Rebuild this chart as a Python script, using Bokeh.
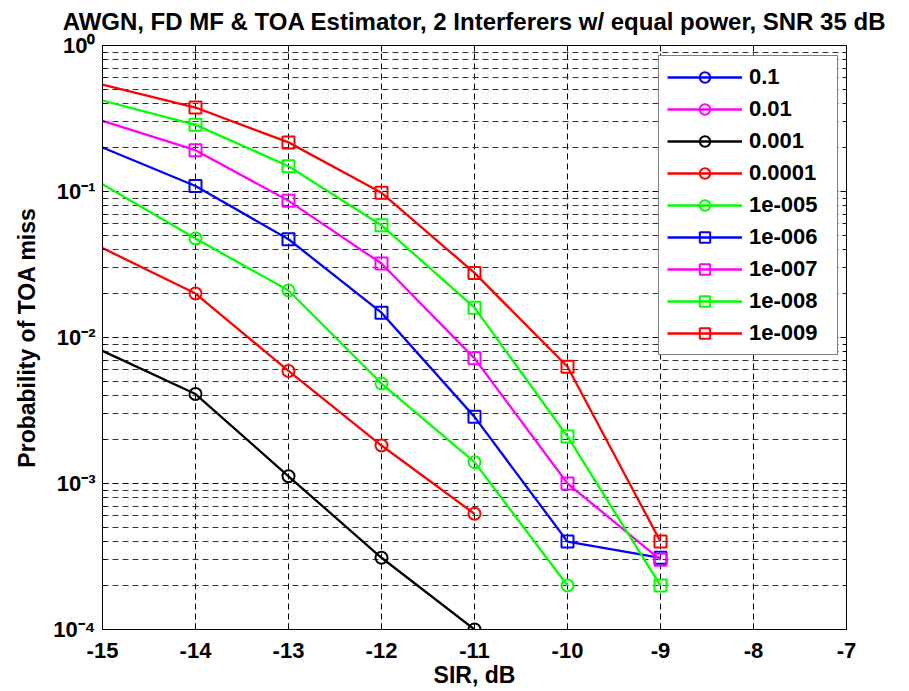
from bokeh.plotting import figure
from bokeh.models import (Range1d, FixedTicker, Legend, LegendItem,
                          LogAxis, LinearAxis, CustomJSTickFormatter, ColumnDataSource)
from bokeh.embed import file_html
from bokeh.resources import INLINE

nan = float("nan")

# ---- data ----
sir_db = [-15, -14, -13, -12, -11, -10, -9]
series_labels = ["0.1", "0.01", "0.001", "0.0001", "1e-005", "1e-006", "1e-007", "1e-008", "1e-009"]
p_0_1 = [nan, nan, nan, nan, nan, nan, nan]
p_0_01 = [nan, nan, nan, nan, nan, nan, nan]
p_1e_3 = [0.0081, 0.0041, 0.00112, 0.00031, 0.0001, nan, nan]
p_1e_4 = [0.041, 0.020, 0.0059, 0.00182, 0.00062, nan, nan]
p_1e_5 = [0.112, 0.0476, 0.021, 0.00484, 0.0014, 0.0002, nan]
p_1e_6 = [0.200, 0.109, 0.0471, 0.0148, 0.00286, 0.0004, 0.00031]
p_1e_7 = [0.305, 0.192, 0.0863, 0.0321, 0.0072, 0.0010, 0.0003]
p_1e_8 = [0.42, 0.286, 0.149, 0.0587, 0.016, 0.0021, 0.0002]
p_1e_9 = [0.54, 0.376, 0.217, 0.098, 0.0277, 0.0063, 0.0004]
series_values = [p_0_1, p_0_01, p_1e_3, p_1e_4, p_1e_5, p_1e_6, p_1e_7, p_1e_8, p_1e_9]
series_colors = ["#0000FF", "#FF00FF", "#000000", "#FF0000", "#00FF00",
                 "#0000FF", "#FF00FF", "#00FF00", "#FF0000"]
series_markers = ["circle"] * 5 + ["square"] * 4

x_ticks = [-15, -14, -13, -12, -11, -10, -9, -8, -7]
x_tick_labels = ["-15", "-14", "-13", "-12", "-11", "-10", "-9", "-8", "-7"]
y_tick_vals = [1e-4, 1e-3, 1e-2, 1e-1, 1.0]
y_tick_labels = ["10\u207b\u2074", "10\u207b\u00b3", "10\u207b\u00b2", "10\u207b\u00b9", "10\u2070"]
y_minor = [m * d for d in [1e-4, 1e-3, 1e-2, 1e-1] for m in range(2, 10)]

title_text = "AWGN, FD MF & TOA Estimator, 2 Interferers w/ equal power, SNR 35 dB"
FONT = "Liberation Sans"

p = figure(frame_width=744, frame_height=584, y_axis_type="log",
           x_range=Range1d(-15, -7), y_range=Range1d(1e-4, 1),
           output_backend="svg", toolbar_location=None,
           min_border_left=102, min_border_right=63, min_border_top=45, min_border_bottom=62,
           background_fill_color="white", border_fill_color="white")

p.title.visible = False

p.outline_line_color = "black"
p.outline_line_width = 1

blank = CustomJSTickFormatter(code="return ''")
x_fmt = CustomJSTickFormatter(args=dict(vals=x_ticks, labs=x_tick_labels), code="""
    let best = 0;
    for (let i = 0; i < vals.length; i++) {
        if (Math.abs(vals[i] - tick) < Math.abs(vals[best] - tick)) best = i;
    }
    return labs[best];
""")
y_fmt = CustomJSTickFormatter(args=dict(vals=y_tick_vals, labs=y_tick_labels), code="""
    let best = 0;
    const lt = Math.log10(tick);
    for (let i = 0; i < vals.length; i++) {
        if (Math.abs(Math.log10(vals[i]) - lt) < Math.abs(Math.log10(vals[best]) - lt)) best = i;
    }
    return labs[best];
""")

# x axis
xa = p.xaxis[0]
xa.ticker = FixedTicker(ticks=x_ticks)
xa.formatter = x_fmt
xa.major_label_text_font = FONT
xa.major_label_text_font_size = "22px"
xa.major_label_text_font_style = "bold"
xa.major_label_text_color = "black"
xa.major_tick_in = 6
xa.major_tick_out = 0
xa.minor_tick_line_color = None
xa.major_label_standoff = 13
xa.axis_label = "SIR, dB"
xa.axis_label_text_font = FONT
xa.axis_label_text_font_size = "23px"
xa.axis_label_text_font_style = "bold"
xa.axis_label_text_color = "black"
xa.axis_label_standoff = 1
xa.axis_line_color = "black"

# y axis
ya = p.yaxis[0]
ya.ticker = FixedTicker(ticks=y_tick_vals, minor_ticks=y_minor)
ya.formatter = y_fmt
ya.major_label_text_font = FONT
ya.major_label_text_font_size = "22px"
ya.major_label_text_font_style = "bold"
ya.major_label_text_color = "black"
ya.major_label_standoff = 7
ya.major_tick_in = 6
ya.major_tick_out = 0
ya.minor_tick_in = 3
ya.minor_tick_out = 0
ya.axis_label = "Probability of TOA miss"
ya.axis_label_text_font = FONT
ya.axis_label_text_font_size = "23px"
ya.axis_label_text_font_style = "bold"
ya.axis_label_text_color = "black"
ya.axis_label_standoff = 10
ya.axis_line_color = "black"

# right / top tick-only axes (MATLAB box ticks); top axis carries the title text
ra = LogAxis(ticker=FixedTicker(ticks=y_tick_vals, minor_ticks=y_minor), formatter=blank,
             major_label_text_font_size="0px", major_label_standoff=0,
             major_tick_in=6, major_tick_out=0, minor_tick_in=3, minor_tick_out=0,
             axis_line_color="black")
p.add_layout(ra, "right")
ta = LinearAxis(ticker=FixedTicker(ticks=x_ticks), formatter=blank,
                major_label_text_font_size="0px", major_label_standoff=0,
                major_tick_in=6, major_tick_out=0, minor_tick_line_color=None,
                axis_line_color="black",
                axis_label=title_text, axis_label_text_font=FONT,
                axis_label_text_font_size="24px", axis_label_text_font_style="bold",
                axis_label_text_color="black", axis_label_standoff=11)
p.add_layout(ta, "above")

# grid
p.xgrid.ticker = FixedTicker(ticks=x_ticks)
p.xgrid.grid_line_color = "black"
p.xgrid.grid_line_dash = "6 4"
p.xgrid.grid_line_width = 1
p.ygrid.ticker = FixedTicker(ticks=y_tick_vals, minor_ticks=y_minor)
p.ygrid.grid_line_color = "black"
p.ygrid.grid_line_dash = "6 4"
p.ygrid.minor_grid_line_color = "#333333"
p.ygrid.minor_grid_line_dash = "6 4"

items = []
for lab, vals, col, mk in zip(series_labels, series_values, series_colors, series_markers):
    line_src = ColumnDataSource(dict(x=sir_db, y=vals))
    mx = [x for x in sir_db if x > -15]
    my = [v for x, v in zip(sir_db, vals) if x > -15]
    mk_src = ColumnDataSource(dict(x=mx, y=my))
    lr = p.line("x", "y", source=line_src, line_color=col, line_width=2.3)
    sr = p.scatter("x", "y", source=mk_src, marker=mk, size=12, line_color=col,
                   line_width=2, fill_color=None)
    items.append(LegendItem(label=lab, renderers=[lr, sr]))

legend = Legend(items=items, location=(556, 274), glyph_width=75, glyph_height=26,
                label_height=26, label_width=80, label_standoff=7, padding=8, spacing=6,
                label_text_font=FONT, label_text_font_size="22px", label_text_font_style="bold",
                label_text_color="black", label_text_baseline="middle",
                border_line_color="black", border_line_width=1,
                background_fill_color="white", background_fill_alpha=1.0)
p.add_layout(legend)

open("out.html", "w").write(file_html(p, INLINE))
